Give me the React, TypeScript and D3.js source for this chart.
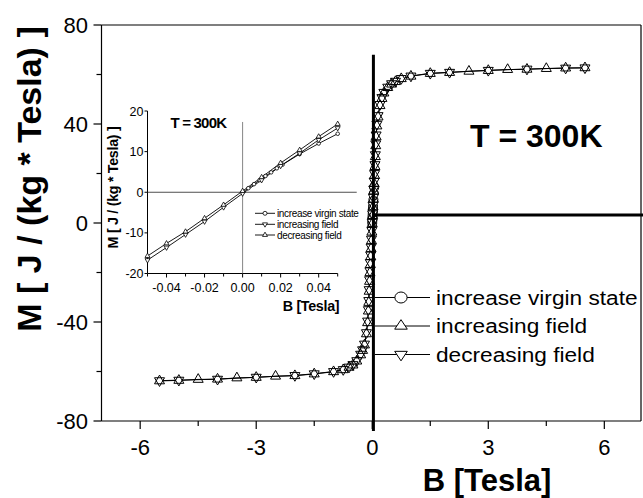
import React from "react";
import * as d3 from "d3";

// ---- main panel data (B in Tesla, M in J/(kg*Tesla)) ----
// increasing field branch (up triangles in main legend)
const incB = [-5.5, -5, -4.5, -4, -3.5, -3, -2.5, -2, -1.5, -1, -0.75, -0.6, -0.5, -0.4, -0.3, -0.25, -0.2, -0.15, -0.12, -0.1,
  -0.09, -0.08, -0.07, -0.06, -0.05, -0.04, -0.03, -0.02, -0.01, 0, 0.01, 0.02, 0.03, 0.04, 0.05, 0.06, 0.07, 0.08, 0.09,
  0.1, 0.12, 0.15, 0.2, 0.25, 0.3, 0.4, 0.5, 0.6, 0.75, 1, 1.5, 2, 2.5, 3, 3.5, 4, 4.5, 5, 5.5];
const incM = [-63.8, -63.6, -63.2, -63.1, -62.6, -62.4, -61.9, -61.7, -61.0, -60.1, -59.3, -58.3, -57.4, -55.8, -53.3, -51.5, -49.3, -44.8, -40.3, -35.6,
  -32.1, -27.6, -23.6, -20.1, -16.8, -13.6, -10.4, -7.2, -3.7, -0.3, 3.0, 6.5, 9.6, 12.9, 15.9, 19.2, 22.8, 26.8, 31.2,
  34.8, 39.2, 42.8, 47.4, 50.3, 52.5, 54.7, 56.1, 57.1, 58.3, 59.3, 60.4, 60.8, 61.3, 61.6, 62.0, 62.1, 62.4, 62.6, 62.7];
// decreasing field branch (down triangles in main legend)
const decB = [5.5, 5, 4, 3, 2, 1.5, 1, 0.75, 0.6, 0.5, 0.4, 0.3, 0.25, 0.2, 0.15, 0.12, 0.1,
  0.09, 0.08, 0.07, 0.06, 0.05, 0.04, 0.03, 0.02, 0.01, 0, -0.01, -0.02, -0.03, -0.04, -0.05, -0.06, -0.07, -0.08, -0.09,
  -0.1, -0.12, -0.15, -0.2, -0.25, -0.3, -0.4, -0.5, -0.6, -0.75, -1, -1.5, -2, -3, -4, -5, -5.5];
const decM = [62.7, 62.6, 62.2, 61.7, 60.9, 60.5, 59.4, 58.4, 57.3, 56.3, 54.9, 52.8, 50.7, 47.9, 43.4, 39.9, 35.6,
  32.0, 27.6, 23.6, 20.0, 16.9, 13.7, 10.4, 7.2, 3.7, 0.3, -3.0, -6.5, -9.7, -12.9, -16.0, -19.3, -22.9, -26.9, -31.3,
  -35.0, -39.6, -44.3, -48.9, -51.2, -53.0, -55.6, -57.2, -58.2, -59.2, -60.0, -60.9, -61.6, -62.3, -63.1, -63.5, -63.7];
// virgin curve
const virB = [0, 0.003, 0.006, 0.009, 0.012, 0.015, 0.018, 0.021, 0.03, 0.04, 0.05];
const virM = [0, 1.0, 2.0, 3.0, 4.0, 4.9, 5.9, 6.8, 9.4, 12.0, 14.4];

const mainXTicks = [-6, -3, 0, 3, 6];
const mainXMinor = [-4.5, -1.5, 1.5, 4.5];
const mainYTicks = [80, 40, 0, -40, -80];
const mainYMinor = [60, 20, -20, -60];

// ---- inset data (low field region) ----
const insB = [-0.05, -0.04, -0.03, -0.02, -0.01, 0, 0.01, 0.02, 0.03, 0.04, 0.05];
const insDec = [-15.7, -12.6, -9.7, -6.4, -3.1, 0.3, 3.7, 7.2, 10.4, 13.7, 16.8];
const insInc = [-16.7, -13.6, -10.4, -7.2, -3.7, -0.3, 3.0, 6.5, 9.6, 12.9, 15.8];
const insXTicks = [-0.04, -0.02, 0, 0.02, 0.04];
const insXTickLabels = ["-0.04", "-0.02", "0.00", "0.02", "0.04"];
const insXMinor = [-0.05, -0.03, -0.01, 0.01, 0.03, 0.05];
const insYTicks = [20, 10, 0, -10, -20];

const legendNames = ["increase virgin state", "increasing field", "decreasing field"];
const insLegendNames = ["increase virgin state", "increasing field", "decreasing field"];

const FONT = "'Liberation Sans', Arial, Helvetica, sans-serif";

function tri(cx: number, cy: number, w: number, h: number, up: boolean) {
  if (up) return `M${cx},${cy - (2 * h) / 3}L${cx + w / 2},${cy + h / 3}L${cx - w / 2},${cy + h / 3}Z`;
  return `M${cx},${cy + (2 * h) / 3}L${cx + w / 2},${cy - h / 3}L${cx - w / 2},${cy - h / 3}Z`;
}

export default function App() {
  // main scales
  const x = d3.scaleLinear().domain([-7, 7]).range([101.5, 643]);
  const y = d3.scaleLinear().domain([-80, 80]).range([421, 25]);
  const right = 641;

  // inset scales
  const ix = d3.scaleLinear().domain([-0.05, 0.05]).range([147.5, 337.7]);
  const iy = d3.scaleLinear().domain([-20, 20]).range([273.5, 111]);

  const line = d3.line<[number, number]>().x((d) => x(d[0])).y((d) => y(d[1]));
  const iline = d3.line<[number, number]>().x((d) => ix(d[0])).y((d) => iy(d[1]));

  const inc = incB.map((b, i) => [b, incM[i]] as [number, number]);
  const dec = decB.map((b, i) => [b, decM[i]] as [number, number]);
  const vir = virB.map((b, i) => [b, virM[i]] as [number, number]);
  const iDec = insB.map((b, i) => [b, insDec[i]] as [number, number]);
  const iInc = insB.map((b, i) => [b, insInc[i]] as [number, number]);

  const legY = [297.5, 326, 354.5];
  const insLegY = [213.3, 224.3, 235];

  return (
    <svg width={643} height={498} style={{ position: "absolute", left: 0, top: 0, background: "#fff" }} fontFamily={FONT}>
      <rect width={643} height={498} fill="#fff" />
      {/* main frame */}
      <g stroke="#000" strokeWidth={1.2} fill="none">
        <line x1={x(-7)} x2={right} y1={y(80)} y2={y(80)} />
        <line x1={x(-7)} x2={right} y1={y(-80)} y2={y(-80)} />
        <line x1={x(-7)} x2={x(-7)} y1={y(80)} y2={y(-80)} />
        <line x1={right} x2={right} y1={y(80)} y2={y(-80)} />
        {mainXTicks.map((t) => <line key={"xt" + t} x1={x(t)} x2={x(t)} y1={y(-80)} y2={y(-80) + 8} />)}
        {mainXMinor.map((t) => <line key={"xm" + t} x1={x(t)} x2={x(t)} y1={y(-80)} y2={y(-80) + 5} />)}
        {mainYTicks.map((t) => <line key={"yt" + t} x1={x(-7) - 8} x2={x(-7)} y1={y(t)} y2={y(t)} />)}
        {mainYMinor.map((t) => <line key={"ym" + t} x1={x(-7) - 5} x2={x(-7)} y1={y(t)} y2={y(t)} />)}
      </g>
      <g fontSize={22} fill="#000">
        {mainXTicks.map((t) => (
          <text key={"xl" + t} x={x(t)} y={455} textAnchor="middle">{t}</text>
        ))}
        {mainYTicks.map((t) => (
          <text key={"yl" + t} x={88} y={y(t) + 8} textAnchor="end">{t}</text>
        ))}
      </g>
      <text x={487} y={491} textAnchor="middle" fontSize={31} fontWeight="bold">B [Tesla]</text>
      <text transform={`translate(41,179) rotate(-90)`} textAnchor="middle" fontSize={34} fontWeight="bold">
        M [ J / (kg * Tesla) ]
      </text>
      <text x={470} y={147} fontSize={32} fontWeight="bold">T = 300K</text>

      {/* main curves */}
      <g fill="none" stroke="#000" strokeWidth={1}>
        <path d={line(inc) || ""} />
        <path d={line(dec) || ""} />
        <path d={line(vir) || ""} />
      </g>
      <g fill="#fff" stroke="#000" strokeWidth={1}>
        {vir.map((d, i) => <circle key={"vc" + i} cx={x(d[0])} cy={y(d[1])} r={4.5} />)}
        {dec.map((d, i) => <path key={"dt" + i} d={tri(x(d[0]), y(d[1]), 10, 8.7, false)} />)}
        {inc.map((d, i) => <path key={"ut" + i} d={tri(x(d[0]), y(d[1]), 10, 8.7, true)} fill="none" />)}
      </g>

      {/* thick annotation lines */}
      <line x1={x(0.03)} x2={x(0.03)} y1={y(68)} y2={y(-84)} stroke="#000" strokeWidth={3} />
      <line x1={x(0.03)} x2={643} y1={y(3.2)} y2={y(3.2)} stroke="#000" strokeWidth={3} />

      {/* main legend */}
      {legendNames.map((name, i) => (
        <g key={"leg" + i}>
          <line x1={375} x2={430} y1={legY[i]} y2={legY[i]} stroke="#000" strokeWidth={1} />
          {i === 0 && <ellipse cx={401} cy={legY[i]} rx={6.1} ry={5.5} fill="#fff" stroke="#000" />}
          {i === 1 && <path d={tri(401, legY[i], 12.6, 9.5, true)} fill="#fff" stroke="#000" />}
          {i === 2 && <path d={tri(401, legY[i], 12.6, 9.5, false)} fill="#fff" stroke="#000" />}
          <text transform={`translate(436,${legY[i] + 7}) scale(1.09,1)`} fontSize={20.8}>{name}</text>
        </g>
      ))}

      {/* ---- inset ---- */}
      <g stroke="#000" strokeWidth={1} fill="none">
        <line x1={ix(-0.05)} x2={ix(-0.05)} y1={iy(20)} y2={iy(-20)} />
        <line x1={ix(-0.05)} x2={ix(0.05)} y1={iy(-20)} y2={iy(-20)} />
        {insYTicks.map((t) => <line key={"iyt" + t} x1={ix(-0.05) - 3} x2={ix(-0.05)} y1={iy(t)} y2={iy(t)} />)}
        {insXTicks.map((t) => <line key={"ixt" + t} x1={ix(t)} x2={ix(t)} y1={iy(-20)} y2={iy(-20) + 4} />)}
        {insXMinor.map((t) => <line key={"ixm" + t} x1={ix(t)} x2={ix(t)} y1={iy(-20)} y2={iy(-20) + 3} />)}
        <line x1={ix(-0.05)} x2={ix(0.06)} y1={iy(0)} y2={iy(0)} stroke="#222" strokeWidth={0.8} />
        <line x1={ix(0)} x2={ix(0)} y1={iy(17.3)} y2={iy(-20)} stroke="#666" strokeWidth={0.8} />
      </g>
      <g fontSize={12.5} fill="#000">
        {insXTicks.map((t, i) => (
          <text key={"ixl" + t} x={ix(t)} y={291.5} textAnchor="middle">{insXTickLabels[i]}</text>
        ))}
        {insYTicks.map((t) => (
          <text key={"iyl" + t} x={143.5} y={iy(t) + 4.5} textAnchor="end">{t}</text>
        ))}
      </g>
      <text x={311} y={311} textAnchor="middle" fontSize={14.3} fontWeight="bold" letterSpacing={-0.3}>B [Tesla]</text>
      <text transform={`translate(118,187.5) rotate(-90)`} textAnchor="middle" fontSize={14.3} fontWeight="bold" letterSpacing={-0.3}>
        M [ J / (kg * Tesla) ]
      </text>
      <text x={170.5} y={127.5} fontSize={15} fontWeight="bold" letterSpacing={-0.8}>T = 300K</text>

      <g fill="none" stroke="#000" strokeWidth={0.9}>
        <path d={iline(iDec) || ""} />
        <path d={iline(iInc) || ""} />
        <path d={iline(vir) || ""} />
      </g>
      <g fill="#fff" stroke="#000" strokeWidth={0.8}>
        {vir.map((d, i) => <circle key={"ivc" + i} cx={ix(d[0])} cy={iy(d[1])} r={1.8} />)}
        {iInc.map((d, i) => <path key={"iit" + i} d={tri(ix(d[0]), iy(d[1]), 5, 4.3, false)} />)}
        {iDec.map((d, i) => <path key={"idt" + i} d={tri(ix(d[0]), iy(d[1]), 5, 4.3, true)} />)}
      </g>

      {insLegendNames.map((name, i) => (
        <g key={"ileg" + i}>
          <line x1={255} x2={275} y1={insLegY[i]} y2={insLegY[i]} stroke="#000" strokeWidth={0.9} />
          {i === 0 && <circle cx={265} cy={insLegY[i]} r={2} fill="#fff" stroke="#000" strokeWidth={0.8} />}
          {i === 1 && <path d={tri(265, insLegY[i], 5, 4.3, false)} fill="#fff" stroke="#000" strokeWidth={0.8} />}
          {i === 2 && <path d={tri(265, insLegY[i], 5, 4.3, true)} fill="#fff" stroke="#000" strokeWidth={0.8} />}
          <text x={277} y={insLegY[i] + 3.5} fontSize={10} letterSpacing={-0.35}>{name}</text>
        </g>
      ))}
    </svg>
  );
}
